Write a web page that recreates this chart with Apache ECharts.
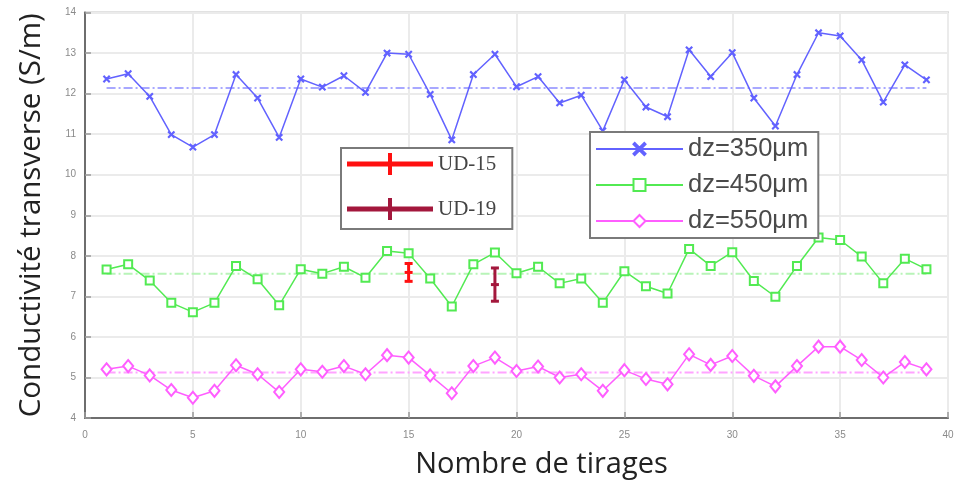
<!DOCTYPE html>
<html>
<head>
<meta charset="utf-8">
<title>Conductivité transverse</title>
<script src="https://cdn.jsdelivr.net/npm/echarts@6/dist/echarts.min.js"></script>
<style>
  html, body { margin: 0; padding: 0; background: #fff; }
  #chart { width: 961px; height: 484px; }
</style>
</head>
<body>
<div id="chart"></div>
<script>
// Draw numbers (x axis)
const tirages = [1,2,3,4,5,6,7,8,9,10,11,12,13,14,15,16,17,18,19,20,
                 21,22,23,24,25,26,27,28,29,30,31,32,33,34,35,36,37,38,39];

// Transverse conductivity per draw (S/m)
const dz350 = [12.36,12.49,11.93,10.99,10.68,10.99,12.47,11.89,10.92,12.36,
               12.16,12.44,12.03,13.00,12.97,11.98,10.86,12.47,12.97,12.17,
               12.42,11.77,11.96,11.08,12.34,11.67,11.43,13.08,12.42,13.01,
               11.89,11.20,12.47,13.50,13.42,12.83,11.79,12.71,12.34];
const dz450 = [7.66,7.79,7.39,6.84,6.61,6.84,7.75,7.42,6.78,7.67,
               7.56,7.73,7.46,8.12,8.06,7.44,6.75,7.79,8.08,7.57,
               7.73,7.32,7.44,6.84,7.62,7.25,7.07,8.17,7.75,8.09,
               7.38,6.99,7.75,8.45,8.39,7.98,7.32,7.93,7.67];
const dz550 = [5.20,5.28,5.05,4.69,4.50,4.67,5.30,5.08,4.64,5.20,
               5.14,5.28,5.08,5.55,5.49,5.05,4.61,5.28,5.49,5.16,
               5.27,5.00,5.08,4.67,5.18,4.96,4.83,5.57,5.31,5.53,
               5.04,4.78,5.28,5.76,5.76,5.43,5.00,5.38,5.20];

// Average level of each thickness, drawn from first to last draw
const meanRange = [1, 39];
const mean350 = 12.14;
const mean450 = 7.56;
const mean550 = 5.12;

// Measured samples: [draw, low, centre, high]
const ud15 = [[15, 7.37, 7.59, 7.81]];
const ud19 = [[19, 6.88, 7.29, 7.70]];

const xTicks = { min: 0, max: 40, interval: 5 };
const yTicks = { min: 4, max: 14, interval: 1 };

const C = {
  blue: '#6262ff', green: '#52ea52', magenta: '#ff5eff',
  blueMean: '#a8a8ff', greenMean: '#b8f4b8', magentaMean: '#ffa4ff',
  red: '#ff1010', darkRed: '#a3173c'
};

const pairs = (ys) => tirages.map((x, i) => [x, ys[i]]);
const flat = (v) => meanRange.map(x => [x, v]);

const crossIcon = 'path://M0,1L1,0L5,4L9,0L10,1L6,5L10,9L9,10L5,6L1,10L0,9L4,5Z';
const udIcon = 'path://M0,8.5H86V13.5H0Z M41,0H45V22H41Z';

function errorBar(params, api) {
  const x = api.value(0);
  const lo = api.coord([x, api.value(1)]);
  const mid = api.coord([x, api.value(2)]);
  const hi = api.coord([x, api.value(3)]);
  const color = api.visual('color');
  const half = 4;
  const style = { stroke: color, lineWidth: 3 };
  const cap = (p) => ({ type: 'line', shape: { x1: p[0] - half, y1: p[1], x2: p[0] + half, y2: p[1] }, style });
  return {
    type: 'group',
    children: [
      { type: 'line', shape: { x1: hi[0], y1: hi[1], x2: lo[0], y2: lo[1] }, style },
      cap(hi), cap(mid), cap(lo)
    ]
  };
}

function lineSeries(name, data, color, symbol, size) {
  return {
    name, type: 'line', data: pairs(data),
    symbol, symbolSize: size,
    lineStyle: { color, width: 1.5 },
    itemStyle: { color, borderColor: color, borderWidth: 1.3 },
    z: 3, animation: false
  };
}

function meanSeries(value, color) {
  return {
    type: 'line', data: flat(value), symbol: 'none',
    lineStyle: { color, width: 2, type: [9, 3, 2, 3] },
    silent: true, z: 2, animation: false
  };
}

const chart = echarts.init(document.getElementById('chart'), null, { renderer: 'canvas' });

chart.setOption({
  backgroundColor: '#ffffff',
  animation: false,
  grid: {
    left: 85, right: 13, top: 12.5, bottom: 66,
    show: true, borderColor: '#c6c6c6', borderWidth: 2, backgroundColor: '#fff'
  },
  xAxis: {
    type: 'value', min: xTicks.min, max: xTicks.max, interval: xTicks.interval,
    name: 'Nombre de tirages', nameLocation: 'middle', nameGap: 32,
    nameTextStyle: {
      fontFamily: 'Open Sans, sans-serif', fontSize: 29, color: '#222',
      padding: [0, 0, 0, 50]
    },
    axisLine: { lineStyle: { color: '#6e6e6e', width: 2 } },
    axisTick: { inside: true, length: 6, lineStyle: { color: '#9a9a9a', width: 1.5 } },
    axisLabel: { fontSize: 10, color: '#8a8a8a', margin: 12 },
    splitLine: { lineStyle: { color: '#ebebeb', width: 2 } }
  },
  yAxis: {
    type: 'value', min: yTicks.min, max: yTicks.max, interval: yTicks.interval,
    name: 'Conductivité transverse (S/m)', nameLocation: 'middle', nameGap: 38,
    nameTextStyle: { fontFamily: 'Open Sans, sans-serif', fontSize: 29.5, color: '#222' },
    axisLine: { show: true, lineStyle: { color: '#6e6e6e', width: 2 } },
    axisTick: { show: true, inside: true, length: 6, lineStyle: { color: '#9a9a9a', width: 1.5 } },
    axisLabel: { fontSize: 10, color: '#8a8a8a', margin: 9 },
    splitLine: { lineStyle: { color: '#ebebeb', width: 2 } }
  },
  legend: [
    {
      orient: 'vertical', left: 341, top: 148,
      padding: [5, 16, 9, 6], itemGap: 23,
      itemWidth: 86, itemHeight: 22, itemTextGap: 5,
      backgroundColor: '#fff', borderColor: '#7a7a7a', borderWidth: 2,
      textStyle: { fontFamily: 'Liberation Serif, serif', fontSize: 21, color: '#444' },
      data: [
        { name: 'UD-15', icon: udIcon },
        { name: 'UD-19', icon: udIcon }
      ]
    },
    {
      orient: 'vertical', left: 590, top: 132,
      padding: [4, 10, 4, 5], itemGap: 10,
      itemWidth: 87, itemHeight: 15, itemTextGap: 5,
      backgroundColor: '#fff', borderColor: '#7a7a7a', borderWidth: 2,
      textStyle: { fontFamily: 'Liberation Sans, Arial, sans-serif', fontSize: 25.5, lineHeight: 24, color: '#4a4a4a' },
      data: ['dz=350μm', 'dz=450μm', 'dz=550μm']
    }
  ],
  series: [
    meanSeries(mean350, C.blueMean),
    meanSeries(mean450, C.greenMean),
    meanSeries(mean550, C.magentaMean),
    lineSeries('dz=350μm', dz350, C.blue, crossIcon, 6),
    lineSeries('dz=450μm', dz450, C.green, 'emptyRect', 8),
    lineSeries('dz=550μm', dz550, C.magenta, 'emptyDiamond', [10, 12]),
    {
      name: 'UD-15', type: 'custom', data: ud15, renderItem: errorBar,
      itemStyle: { color: C.red }, z: 4,
      encode: { x: 0, y: [1, 2, 3] }
    },
    {
      name: 'UD-19', type: 'custom', data: ud19, renderItem: errorBar,
      itemStyle: { color: C.darkRed }, z: 4,
      encode: { x: 0, y: [1, 2, 3] }
    }
  ]
});
</script>
</body>
</html>
